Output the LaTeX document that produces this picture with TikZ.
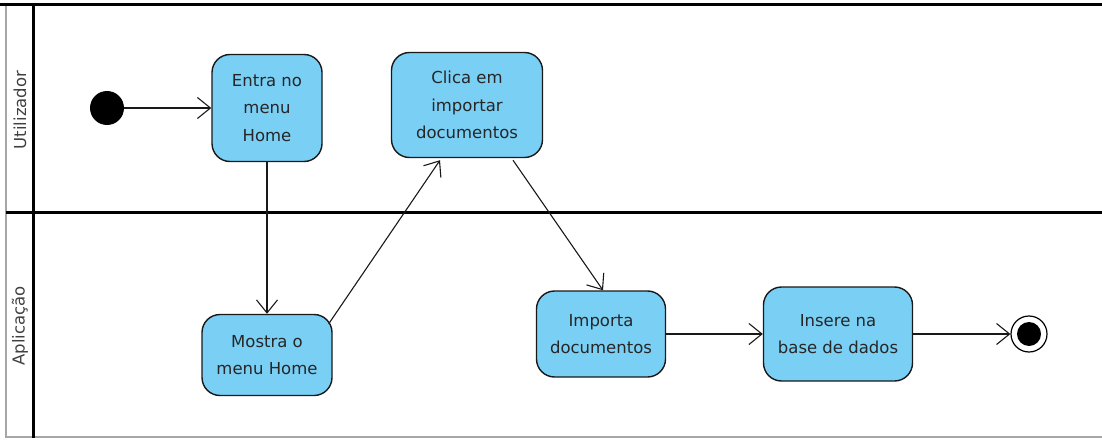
\documentclass[tikz,border=0pt]{standalone}
\usepackage{fontspec}
\setmainfont{DejaVu Sans}
\usetikzlibrary{arrows.meta}
\definecolor{actfill}{RGB}{122,207,245}
\tikzset{
  action/.style={draw=black!90, fill=actfill, line width=1.4pt, rounded corners=18pt,
    align=center, inner sep=0pt, font=\fontsize{16.5}{27.5}\selectfont, text=black!85},
  flow/.style={draw=black!90, line width=1.1pt, -{Straight Barb[length=13pt,width=21pt]}},
  lanelabel/.style={rotate=90, font=\fontsize{16.5}{20}\selectfont, text=black!75},
}
\begin{document}
\begin{tikzpicture}[x=1pt,y=-1pt]
\useasboundingbox (0,0) rectangle (1102,441);
% swimlanes
\draw[gray!70, line width=1.5pt] (6,5) -- (6,437) -- (1102,437);
\draw[line width=3pt] (0,5) -- (1102,5);
\draw[line width=3pt] (6,212) -- (1102,212);
\draw[line width=3pt] (33,5) -- (33,438);
\node[lanelabel] (lutil) at (20,110) {Utilizador};
\node[lanelabel] (lapl) at (20,326) {Aplicação};
% actions
\node[circle, fill=black, minimum size=34pt, inner sep=0pt] (inicio) at (107,108) {};
\node[action, minimum width=110pt, minimum height=107pt] (entra) at (267,108) {Entra no\\menu\\Home};
\node[action, minimum width=151pt, minimum height=105pt] (clica) at (467,105) {Clica em\\importar\\documentos};
\node[action, minimum width=130pt, minimum height=81pt] (mostra) at (267,355) {Mostra o\\menu Home};
\node[action, minimum width=129pt, minimum height=86pt] (importa) at (601,334) {Importa\\documentos};
\node[action, minimum width=149pt, minimum height=94pt] (insere) at (838,334) {Insere na\\base de dados};
\node[circle, draw=black, line width=1.2pt, minimum size=36pt, inner sep=0pt] (fim) at (1029,334) {};
\node[circle, fill=black, minimum size=24pt, inner sep=0pt] (fimdot) at (fim) {};
% flows
\draw[flow] (inicio) -- (entra);
\draw[flow] (entra) -- (mostra);
\draw[flow] ([xshift=-4pt,yshift=-10pt]mostra.north east) -- ([xshift=-27pt,yshift=-2pt]clica.south);
\draw[flow] ([xshift=46pt,yshift=-2pt]clica.south) -- ([xshift=2pt]importa.north);
\draw[flow] (importa) -- (insere);
\draw[flow] (insere) -- (fim);
\end{tikzpicture}
\end{document}
